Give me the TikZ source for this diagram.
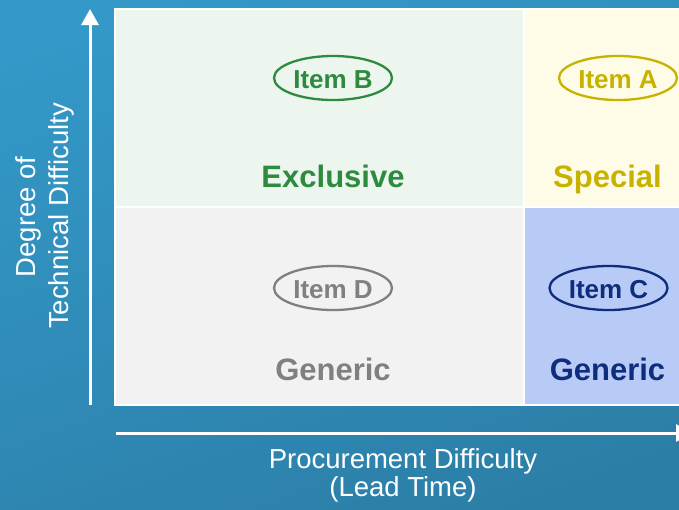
\documentclass[tikz,border=0pt]{standalone}
\usepackage{fontspec}
\setmainfont{Liberation Sans}
\usetikzlibrary{arrows.meta,shapes.geometric}
\definecolor{bgtop}{HTML}{3499C9}
\definecolor{bgbot}{HTML}{2B7EA6}
\definecolor{cgreen}{HTML}{ECF6EE}
\definecolor{cyellow}{HTML}{FEFCE6}
\definecolor{cgrey}{HTML}{F2F2F2}
\definecolor{cblue}{HTML}{B8CAF6}
\definecolor{tgreen}{HTML}{2E8A3E}
\definecolor{tyellow}{HTML}{C8B200}
\definecolor{tgrey}{HTML}{808080}
\definecolor{tnavy}{HTML}{0F2D7D}
\tikzset{
  cell/.style={draw=white, line width=2pt, rectangle, inner sep=0pt},
  itemell/.style={ellipse, draw, line width=2.3pt, minimum width=118pt, minimum height=44pt, inner sep=0pt},
  itemtxt/.style={font=\fontsize{26}{30}\selectfont\bfseries, anchor=base},
  celltxt/.style={font=\fontsize{31}{36}\selectfont\bfseries, anchor=base},
  axtxt/.style={font=\fontsize{27.5}{33}\selectfont, text=white, anchor=base},
  axarrow/.style={draw=white, line width=3pt, -{Triangle[width=17pt,length=16pt]}}
}
\begin{document}
\begin{tikzpicture}[x=1pt,y=-1pt]
\useasboundingbox (0,0) rectangle (679,509);
\clip (0,0) rectangle (679,509);
\shade[shading=axis, top color=bgtop, bottom color=bgbot, shading angle=20] (-40,-40) rectangle (720,550);
% cells
\path[cell, fill=cgreen] (115,9) rectangle (524,207);
\path[cell, fill=cyellow] (524,9) rectangle (692,207);
\path[cell, fill=cgrey] (115,207) rectangle (524,405);
\path[cell, fill=cblue] (524,207) rectangle (692,405);
% items
\node[itemell, draw=tgreen] (eB) at (333,78) {};
\node[itemtxt, text=tgreen] (iB) at (333,88) {Item B};
\node[itemell, draw=tyellow] (eA) at (618,78) {};
\node[itemtxt, text=tyellow] (iA) at (618,88) {Item A};
\node[itemell, draw=tgrey] (eD) at (333,288) {};
\node[itemtxt, text=tgrey] (iD) at (333,298) {Item D};
\node[itemell, draw=tnavy] (eC) at (608.5,288) {};
\node[itemtxt, text=tnavy] (iC) at (608.5,298) {Item C};
% cell labels
\node[celltxt, text=tgreen] (lB) at (333,187) {Exclusive};
\node[celltxt, text=tyellow] (lA) at (607.5,187) {Special};
\node[celltxt, text=tgrey] (lD) at (333,380) {Generic};
\node[celltxt, text=tnavy] (lC) at (607.5,380) {Generic};
% axes
\coordinate (vs) at (90,405);
\coordinate (ve) at (90,9);
\coordinate (hs) at (116,433);
\coordinate (he) at (692,433);
\draw[axarrow] (vs) -- (ve);
\draw[axarrow] (hs) -- (he);
\node[axtxt, rotate=90] (ya) at (35,217) {Degree of};
\node[axtxt, rotate=90] (yb) at (68,216) {Technical Difficulty};
\node[axtxt] (xa) at (403,468) {Procurement Difficulty};
\node[axtxt] (xb) at (403,496) {(Lead Time)};
\end{tikzpicture}
\end{document}
